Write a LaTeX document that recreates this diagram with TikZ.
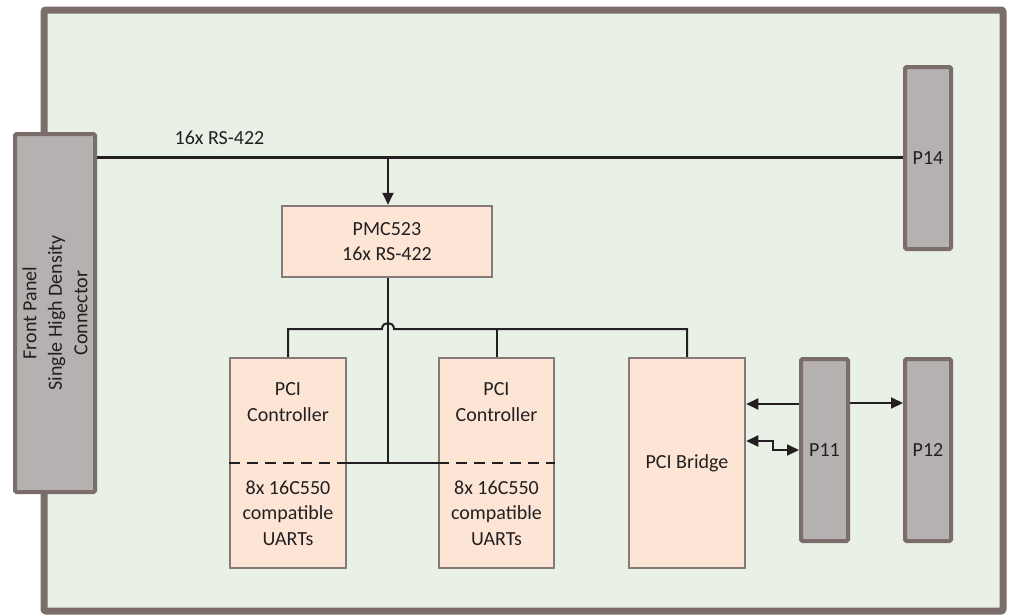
\documentclass[tikz,border=0pt]{standalone}
\usepackage{fontspec}
\setmainfont{Carlito}
\usetikzlibrary{arrows.meta}
\definecolor{board}{HTML}{E9F1E7}
\definecolor{edge}{HTML}{7B6E6A}
\definecolor{conn}{HTML}{B5B1B0}
\definecolor{chip}{HTML}{FDE5D5}
\definecolor{chipedge}{HTML}{857A77}
\definecolor{wire}{HTML}{231F20}
\tikzset{
  txt/.style={font=\fontsize{20}{25.5}\selectfont, text=wire, align=center},
  connbox/.style={draw=edge, fill=conn, line width=4pt, rounded corners=1.5pt, inner sep=0pt, txt},
  chipbox/.style={draw=chipedge, fill=chip, line width=2.5pt, inner sep=0pt, txt},
  wireline/.style={draw=wire, line width=2pt},
  tip/.style={-{Triangle[length=12pt,width=11pt]}},
  tips/.style={{Triangle[length=12pt,width=11pt]}-{Triangle[length=12pt,width=11pt]}},
}
\begin{document}
\begin{tikzpicture}[x=1pt,y=-1pt]
\useasboundingbox (0,0) rectangle (1013,616);
\draw[edge, line width=7pt, fill=board, rounded corners=2pt] (44,10) rectangle (1003,611);

% connectors
\node[connbox, minimum width=80pt, minimum height=358pt] (fp) at (55,313) {};
\node[txt, rotate=90] (fptxt) at (fp.center) {Front Panel\\Single High Density\\Connector};
\node[connbox, minimum width=46pt, minimum height=182pt] (p14) at (928,158) {P14};
\node[connbox, minimum width=47pt, minimum height=182pt] (p11) at (824.5,450) {P11};
\node[connbox, minimum width=46pt, minimum height=182pt] (p12) at (928,450) {P12};

% chips
\node[chipbox, minimum width=210pt, minimum height=71pt] (pmc) at (387,241.5) {PMC523\\16x RS-422};
\node[chipbox, minimum width=116pt, minimum height=210pt] (b1) at (288,463) {};
\node[chipbox, minimum width=115pt, minimum height=210pt] (b2) at (496.5,463) {};
\node[chipbox, minimum width=116pt, minimum height=210pt] (br) at (687,463) {PCI Bridge};
\node[txt] (b1top) at (288,402) {PCI\\Controller};
\node[txt] (b1bot) at (288,513) {8x 16C550\\compatible\\UARTs};
\node[txt] (b2top) at (496.5,402) {PCI\\Controller};
\node[txt] (b2bot) at (496.5,513) {8x 16C550\\compatible\\UARTs};
\draw[wire, line width=2pt, dash pattern=on 11pt off 7pt] (b1.west) -- (b1.east);
\draw[wire, line width=2pt, dash pattern=on 11pt off 7pt] (b2.west) -- (b2.east);

% bus
\draw[wire, line width=3pt] (fp.east |- 0,157) -- (p14.west |- 0,157);
\node[txt] (buslbl) at (219.5,138) {16x RS-422};
\coordinate (tap) at (388,157);
\draw[wireline, tip] (tap) -- (tap |- pmc.north);

% PMC down to UART line
\coordinate (pmcdown) at (388,463);
\draw[wireline] (pmc.south -| tap) -- (pmcdown);
\draw[wireline] (b1.east) -- (b2.west);

% PCI bus with hop
\draw[wireline] (b1.north) -- (288,329) -- (382,329)
  .. controls (382,321) and (394,321) .. (394,329)
  -- (687,329) -- (br.north);
\draw[wireline] (b2.north) -- (b2.north |- 0,329);

% P11 connections
\draw[wireline, tip] (p11.west |- 0,404) -- (br.east |- 0,404);
\draw[wireline, tip] (p11.east |- 0,403) -- (p12.west |- 0,403);
\draw[wireline, tips] (br.east |- 0,441) -- (773,441) -- (773,450) -- (p11.west |- 0,450);
\end{tikzpicture}
\end{document}
